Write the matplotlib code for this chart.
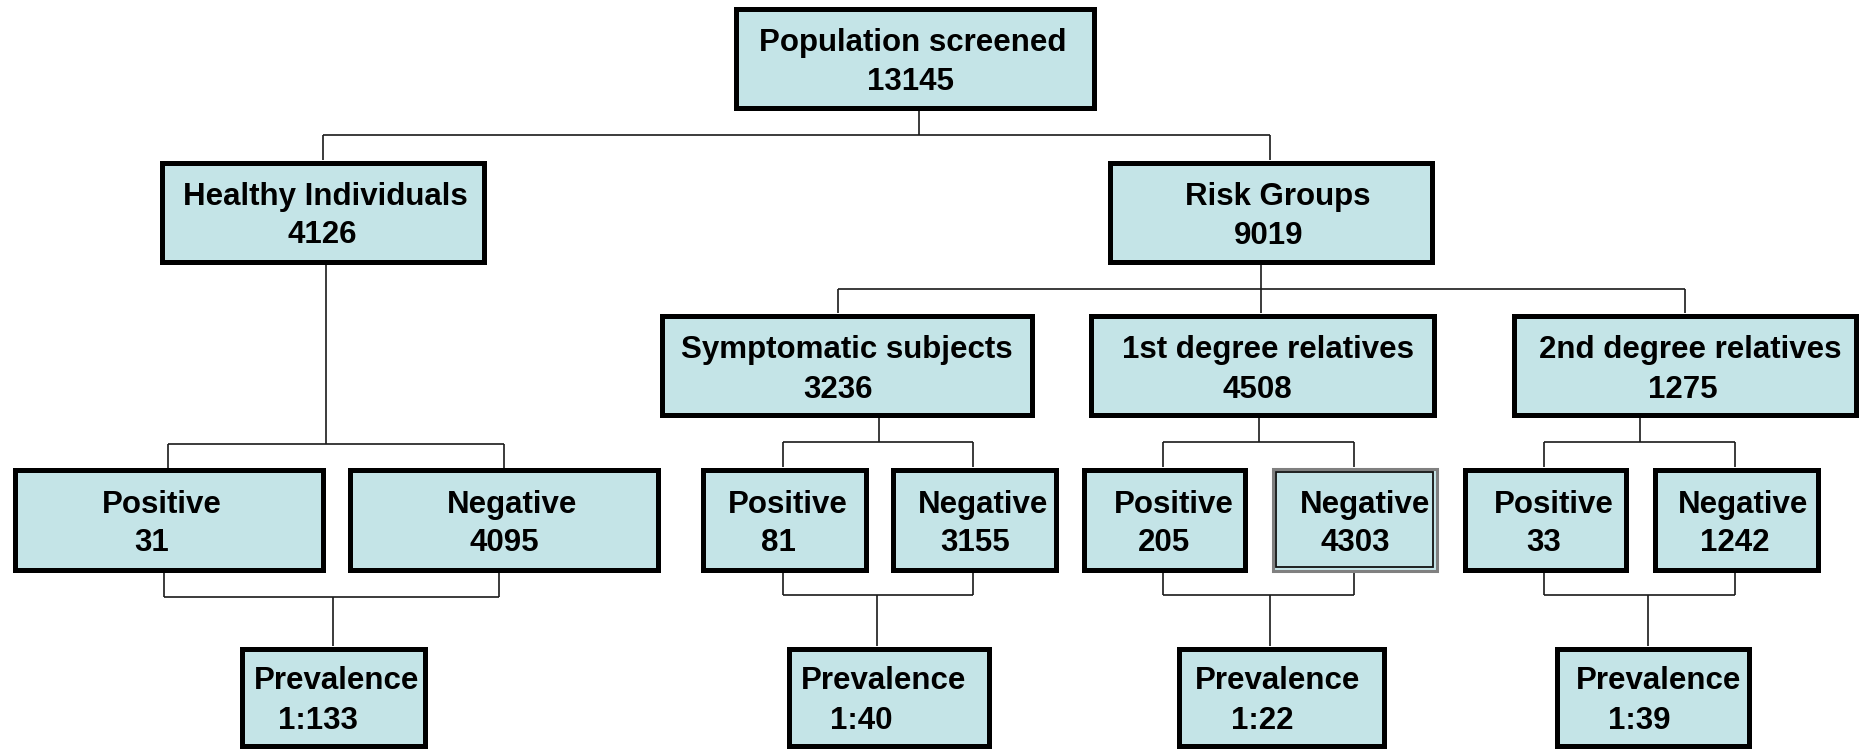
import matplotlib
matplotlib.use('Agg')
import matplotlib.pyplot as plt
from matplotlib.patches import Rectangle

plt.rcParams['font.family'] = ['Liberation Sans', 'DejaVu Sans']

######################################
# DATA
titles = ['Population screened', 'Healthy Individuals', 'Risk Groups',
          'Symptomatic subjects', '1st degree relatives', '2nd degree relatives']
counts = [13145, 4126, 9019, 3236, 4508, 1275]
positives = [31, 81, 205, 33]
negatives = [4095, 3155, 4303, 1242]
prevalence = ['1:133', '1:40', '1:22', '1:39']
######################################
# LAYOUT (pixels, y downwards)
fill = '#C4E4E7'
fs = 22.5

# outer box edges: x0, x1, y0, y1
top_boxes = [(733, 1096, 6, 110), (159, 486, 160, 264), (1107, 1434, 160, 264),
             (659, 1034, 313, 417), (1088, 1436, 313, 417), (1511, 1858, 313, 417)]
# text x for line 1 / line 2, baselines
top_text_x = [(913, 910), (325, 322), (1278, 1269), (847, 838), (1268, 1257), (1690, 1683)]
top_base = [(51, 90), (205, 243), (205, 244), (358, 398), (358, 398), (358, 398)]

pos_x = [(12, 325), (700, 868), (1081, 1247), (1462, 1628)]
neg_x = [(347, 660), (890, 1058), (1271, 1438), (1652, 1820)]
pn_y = (467, 572)
pos_text_x = [(162, 152), (788, 778), (1174, 1164), (1554, 1544)]
neg_text_x = [(512, 504), (983, 975), (1365, 1355), (1743, 1735)]
pn_base = (513, 551)

prev_x = [(239, 427), (786, 991), (1176, 1386), (1554, 1751)]
prev_y = (646, 748)
prev_text_x = [(337, 318), (884, 861), (1278, 1262), (1659, 1639)]
prev_base = (689, 729)

fig = plt.figure(figsize=(18.6, 7.49), dpi=100)
ax = fig.add_axes([0, 0, 1, 1])
ax.set_xlim(0, 1860)
ax.set_ylim(749, 0)
ax.axis('off')


def box(x0, x1, y0, y1, double=False):
    b = 2.5
    if double:
        ax.add_patch(Rectangle((x0 + 1.5, y0 + 1.5), x1 - x0 - 3, y1 - y0 - 3,
                               facecolor=fill, edgecolor='#808080', lw=2.2, zorder=2))
        ax.add_patch(Rectangle((x0 + 5, y0 + 5), x1 - x0 - 10, y1 - y0 - 10,
                               facecolor='none', edgecolor='#111111', lw=1.3, zorder=3))
    else:
        ax.add_patch(Rectangle((x0 + b, y0 + b), x1 - x0 - 2 * b, y1 - y0 - 2 * b,
                               facecolor=fill, edgecolor='black', lw=3.6, zorder=2))


def label(xs, bases, l1, l2):
    ax.text(xs[0], bases[0], l1, ha='center', va='baseline', fontsize=fs,
            fontweight='bold', zorder=4)
    ax.text(xs[1], bases[1], l2, ha='center', va='baseline', fontsize=fs,
            fontweight='bold', zorder=4)


def line(xs, ys):
    ax.plot(xs, ys, color='#1a1a1a', lw=1.2, solid_capstyle='butt', zorder=1)


def split(px, py, bar_y, child_xs, cy):
    # one parent, several children below
    line([px, px], [py, bar_y])
    line([min(child_xs + [px]), max(child_xs + [px])], [bar_y, bar_y])
    for cx in child_xs:
        line([cx, cx], [bar_y, cy])


def merge(child_xs, cy, bar_y, tx, ty):
    # several boxes joining into one below
    for cx in child_xs:
        line([cx, cx], [cy, bar_y])
    line([min(child_xs), max(child_xs)], [bar_y, bar_y])
    line([tx, tx], [bar_y, ty])


# connectors
split(919, 110, 135, [322.6, 1270], 160)
split(325.6, 264, 444, [168, 503.6], 468)
split(1261, 264, 289, [838, 1261, 1685], 313)
split(879, 417, 442, [783, 973], 467)
split(1259, 417, 442, [1163, 1354], 467)
split(1640, 417, 442, [1544, 1735], 467)
merge([164, 499], 572, 597, 333, 646)
merge([783, 973], 572, 595, 876.6, 646)
merge([1163, 1354], 572, 595, 1270, 646)
merge([1544, 1735], 572, 595, 1648, 646)

for i in range(len(titles)):
    box(*top_boxes[i])
    label(top_text_x[i], top_base[i], titles[i], str(counts[i]))

for i in range(len(positives)):
    box(pos_x[i][0], pos_x[i][1], pn_y[0], pn_y[1])
    label(pos_text_x[i], pn_base, 'Positive', str(positives[i]))
    box(neg_x[i][0], neg_x[i][1], pn_y[0], pn_y[1], double=(i == 2))
    label(neg_text_x[i], pn_base, 'Negative', str(negatives[i]))
    box(prev_x[i][0], prev_x[i][1], prev_y[0], prev_y[1])
    label(prev_text_x[i], prev_base, 'Prevalence', prevalence[i])

fig.savefig('out.png', dpi=100, facecolor='white')
